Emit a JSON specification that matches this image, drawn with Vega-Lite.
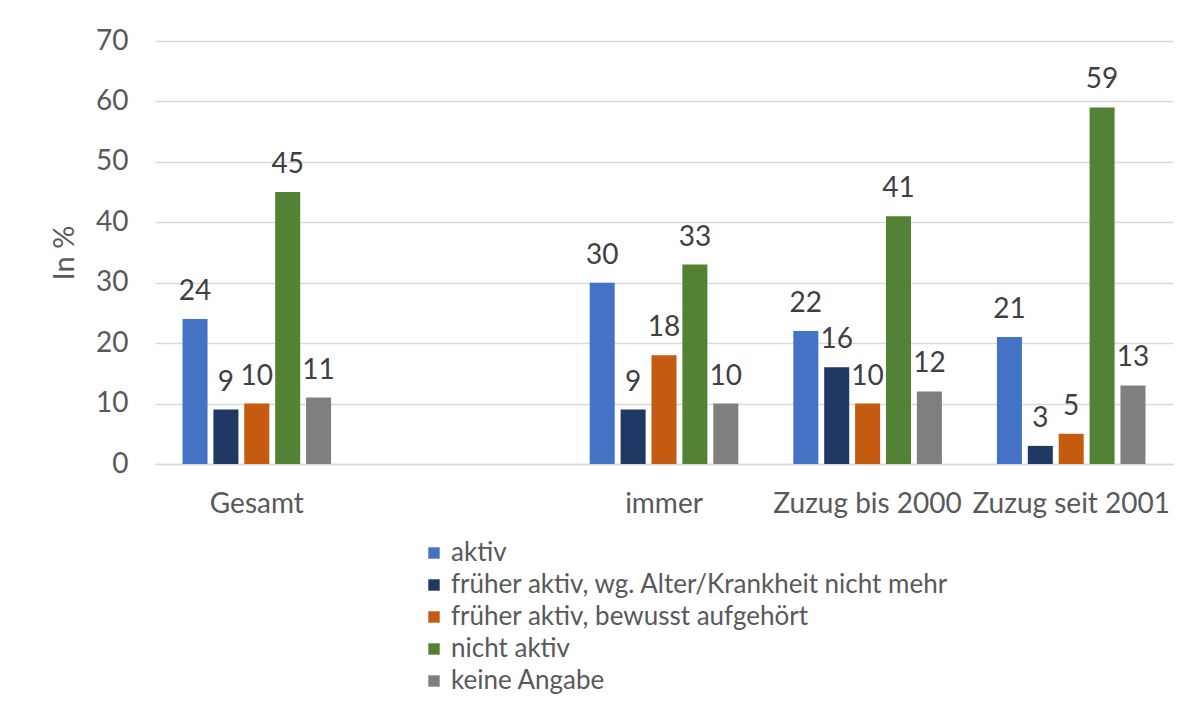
{
  "$schema": "https://vega.github.io/schema/vega-lite/v6.json",
  "width": 1018,
  "height": 423,
  "autosize": {"type": "none"},
  "padding": {"left": 155, "top": 41, "right": 15, "bottom": 240},
  "background": "white",
  "config": {"font": "Lato", "view": {"stroke": null}},
  "data": {"values": [
    {"group": "Gesamt", "cat": "aktiv", "value": 24},
    {"group": "Gesamt", "cat": "früher aktiv, wg. Alter/Krankheit nicht mehr", "value": 9},
    {"group": "Gesamt", "cat": "früher aktiv, bewusst aufgehört", "value": 10},
    {"group": "Gesamt", "cat": "nicht aktiv", "value": 45},
    {"group": "Gesamt", "cat": "keine Angabe", "value": 11},
    {"group": "immer", "cat": "aktiv", "value": 30},
    {"group": "immer", "cat": "früher aktiv, wg. Alter/Krankheit nicht mehr", "value": 9},
    {"group": "immer", "cat": "früher aktiv, bewusst aufgehört", "value": 18},
    {"group": "immer", "cat": "nicht aktiv", "value": 33},
    {"group": "immer", "cat": "keine Angabe", "value": 10},
    {"group": "Zuzug bis 2000", "cat": "aktiv", "value": 22},
    {"group": "Zuzug bis 2000", "cat": "früher aktiv, wg. Alter/Krankheit nicht mehr", "value": 16},
    {"group": "Zuzug bis 2000", "cat": "früher aktiv, bewusst aufgehört", "value": 10},
    {"group": "Zuzug bis 2000", "cat": "nicht aktiv", "value": 41},
    {"group": "Zuzug bis 2000", "cat": "keine Angabe", "value": 12},
    {"group": "Zuzug seit 2001", "cat": "aktiv", "value": 21},
    {"group": "Zuzug seit 2001", "cat": "früher aktiv, wg. Alter/Krankheit nicht mehr", "value": 3},
    {"group": "Zuzug seit 2001", "cat": "früher aktiv, bewusst aufgehört", "value": 5},
    {"group": "Zuzug seit 2001", "cat": "nicht aktiv", "value": 59},
    {"group": "Zuzug seit 2001", "cat": "keine Angabe", "value": 13}
  ]},
  "encoding": {
    "x": {
      "field": "group", "type": "nominal", "sort": null,
      "scale": {"domain": ["Gesamt", " ", "immer", "Zuzug bis 2000", "Zuzug seit 2001"], "paddingInner": 0.24, "paddingOuter": 0.12},
      "axis": {"title": null, "labelAngle": 0, "labelFontSize": 28, "labelColor": "#595959", "labelPadding": 26, "labelLimit": 300, "ticks": false, "domainColor": "#d9d9d9", "domainWidth": 1.5, "grid": false}
    },
    "xOffset": {
      "field": "cat", "type": "nominal",
      "scale": {"domain": ["aktiv", "früher aktiv, wg. Alter/Krankheit nicht mehr", "früher aktiv, bewusst aufgehört", "nicht aktiv", "keine Angabe"], "paddingInner": 0.19, "paddingOuter": 0.1}
    },
    "y": {
      "field": "value", "type": "quantitative",
      "scale": {"domain": [0, 70]},
      "axis": {"title": "In %", "titleFontSize": 29, "titleFontWeight": "normal", "titleColor": "#595959", "titlePadding": 16, "values": [0, 10, 20, 30, 40, 50, 60, 70], "labelFontSize": 28, "labelColor": "#595959", "labelPadding": 27, "ticks": false, "domain": false, "gridColor": "#d9d9d9", "gridWidth": 1.5}
    }
  },
  "layer": [
    {
      "mark": {"type": "bar"},
      "encoding": {
        "color": {
          "field": "cat", "type": "nominal",
          "scale": {"domain": ["aktiv", "früher aktiv, wg. Alter/Krankheit nicht mehr", "früher aktiv, bewusst aufgehört", "nicht aktiv", "keine Angabe"], "range": ["#4472C4", "#203864", "#C55A11", "#548235", "#7F7F7F"]},
          "legend": {"title": null, "orient": "none", "legendX": 266, "legendY": 499, "direction": "vertical", "symbolType": "square", "symbolSize": 130, "symbolStrokeWidth": 0, "labelFontSize": 26, "labelColor": "#595959", "rowPadding": 6, "labelOffset": 4, "padding": 0, "labelLimit": 700}
        }
      }
    },
    {
      "mark": {"type": "text", "baseline": "alphabetic", "dy": -19, "fontSize": 28, "color": "#404040"},
      "encoding": {"text": {"field": "value", "type": "quantitative"}}
    }
  ]
}
